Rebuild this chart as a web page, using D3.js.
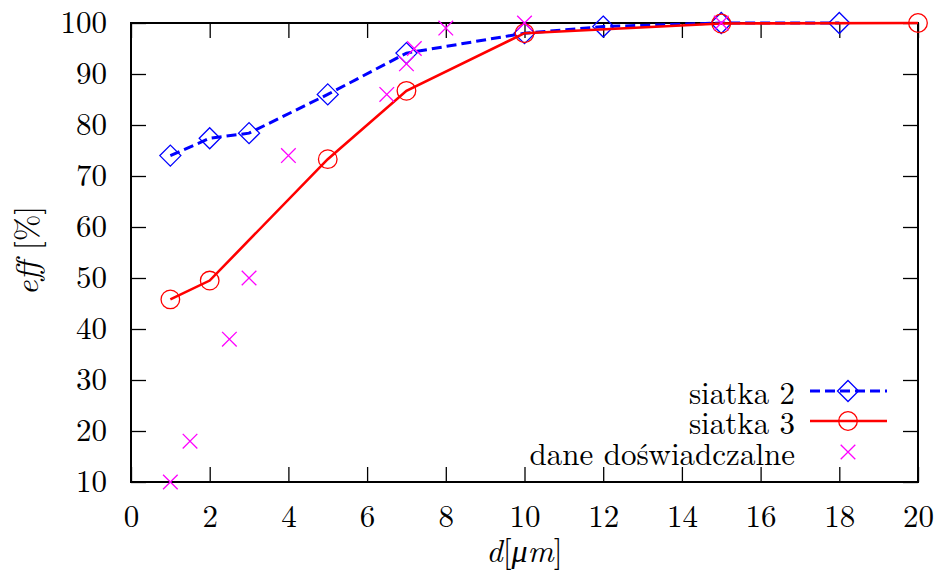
<!DOCTYPE html>
<html><head><meta charset="utf-8">
<script src="https://cdn.jsdelivr.net/npm/d3@7"></script>
<style>body{margin:0;background:#fff}</style>
</head><body>
<script>
const xTicks = [0,2,4,6,8,10,12,14,16,18,20];
const yTicks = [10,20,30,40,50,60,70,80,90,100];

const siatka2X = [1,2,3,5,7,10,12,15,18];
const siatka2Y = [74,77.4,78.4,86,94.1,98,99.3,100,100];

const siatka3X = [1,2,5,7,10,15,20];
const siatka3Y = [45.8,49.5,73.3,86.7,98,99.9,100];

const expX = [1,1.5,2.5,3,4,6.5,7,7.2,8,10,15];
const expY = [10,18,38,50,74,86,92,95,99,100,100];

const W=936,H=572;
const m={l:131,r:918,t:23,b:482};
const font="Latin Modern Roman";
const fs=31;

const svg=d3.select("body").append("svg").attr("width",W).attr("height",H);
const x=d3.scaleLinear().domain([0,20]).range([m.l,m.r]);
const y=d3.scaleLinear().domain([10,100]).range([m.b,m.t]);
const T=15;

const g=svg.append("g");
const axBottom=d3.axisBottom(x).tickValues(xTicks).tickSize(-T).tickPadding(T+8).tickSizeOuter(0);
const axLeft=d3.axisLeft(y).tickValues(yTicks).tickSize(-T).tickPadding(T+9).tickSizeOuter(0);
const axTop=d3.axisTop(x).tickValues(xTicks).tickSize(-T).tickFormat("").tickSizeOuter(0);
const axRight=d3.axisRight(y).tickValues(yTicks).tickSize(-T).tickFormat("").tickSizeOuter(0);
g.append("g").attr("transform",`translate(0,${m.b})`).call(axBottom);
g.append("g").attr("transform",`translate(${m.l},0)`).call(axLeft);
g.append("g").attr("transform",`translate(0,${m.t})`).call(axTop);
g.append("g").attr("transform",`translate(${m.r},0)`).call(axRight);
g.selectAll(".domain").remove();
g.selectAll(".tick line").attr("stroke","#000").attr("stroke-width",1.3);
g.selectAll(".tick text").attr("font-family",font).attr("font-size",fs).attr("fill","#000");
svg.append("rect").attr("x",m.l).attr("y",m.t).attr("width",m.r-m.l).attr("height",m.b-m.t)
  .attr("fill","none").attr("stroke","#000").attr("stroke-width",2);

svg.append("text").attr("x",(m.l+m.r)/2).attr("y",562).attr("text-anchor","middle")
  .attr("font-family",font).attr("font-size",fs+1)
  .html('<tspan font-style="italic">d</tspan>[<tspan font-style="italic">μm</tspan>]');
svg.append("text").attr("transform",`translate(38,${(m.t+m.b)/2 - 2}) rotate(-90)`).attr("text-anchor","middle")
  .attr("font-family",font).attr("font-size",fs+1)
  .html('<tspan font-style="italic">eff</tspan> [%]');

const line=d3.line().x(d=>x(d[0])).y(d=>y(d[1]));
const s2=siatka2X.map((v,i)=>[v,siatka2Y[i]]);
const s3=siatka3X.map((v,i)=>[v,siatka3Y[i]]);
const ex=expX.map((v,i)=>[v,expY[i]]);

function diamond(sel,cx,cy){sel.append("path").attr("d",`M${cx},${cy-10.5}L${cx+10.5},${cy}L${cx},${cy+10.5}L${cx-10.5},${cy}Z`)
  .attr("fill","none").attr("stroke","#0000ff").attr("stroke-width",1.3);}
function circle(sel,cx,cy){sel.append("circle").attr("cx",cx).attr("cy",cy).attr("r",9.3)
  .attr("fill","none").attr("stroke","#ff0000").attr("stroke-width",1.3);}
function cross(sel,cx,cy){const h=7.3;sel.append("path").attr("d",`M${cx-h},${cy-h}L${cx+h},${cy+h}M${cx-h},${cy+h}L${cx+h},${cy-h}`)
  .attr("fill","none").attr("stroke","#ff00ff").attr("stroke-width",1.3);}

const p=svg.append("g");
p.append("path").attr("d",line(s2)).attr("fill","none").attr("stroke","#0000ff").attr("stroke-width",3).attr("stroke-dasharray","10,5");
s2.forEach(d=>diamond(p,x(d[0]),y(d[1])));
p.append("path").attr("d",line(s3)).attr("fill","none").attr("stroke","#ff0000").attr("stroke-width",2.6);
s3.forEach(d=>circle(p,x(d[0]),y(d[1])));
ex.forEach(d=>cross(p,x(d[0]),y(d[1])));

const lg=svg.append("g");
const rows=[{t:"siatka 2",y:391},{t:"siatka 3",y:421},{t:"dane doświadczalne",y:452}];
rows.forEach(r=>lg.append("text").attr("x",795).attr("y",r.y).attr("text-anchor","end").attr("dominant-baseline","central")
  .attr("font-family",font).attr("font-size",fs).text(r.t));
lg.append("line").attr("x1",810).attr("x2",887).attr("y1",391).attr("y2",391).attr("stroke","#0000ff").attr("stroke-width",3).attr("stroke-dasharray","10,5");
diamond(lg,848,391);
lg.append("line").attr("x1",810).attr("x2",887).attr("y1",421).attr("y2",421).attr("stroke","#ff0000").attr("stroke-width",2.6);
circle(lg,848,421);
cross(lg,848,452);
</script>
</body></html>
